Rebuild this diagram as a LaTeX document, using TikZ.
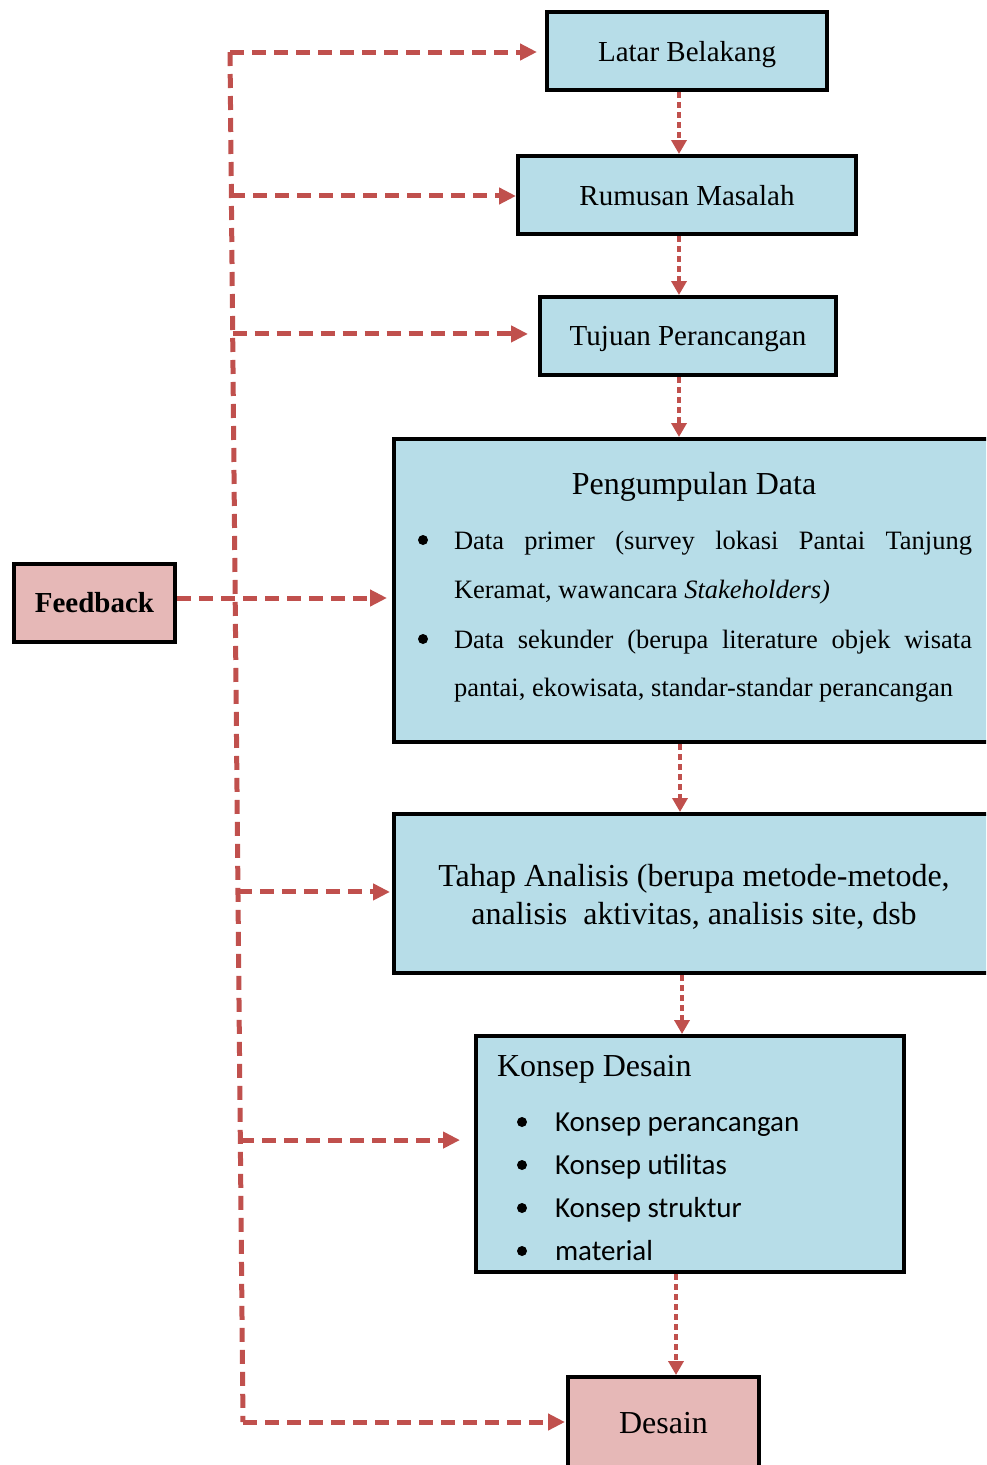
\documentclass[tikz,border=0pt]{standalone}
\usepackage{fontspec}
\setmainfont{Liberation Serif}
\newfontfamily\calfont{Carlito}
\usetikzlibrary{arrows.meta,calc}
\definecolor{boxblue}{HTML}{B7DDE8}
\definecolor{boxpink}{HTML}{E6B8B7}
\definecolor{fbred}{HTML}{C0504D}
\newcommand\fsA{\fontsize{29}{34}\selectfont}
\newcommand\fsB{\fontsize{32}{38}\selectfont}
\newcommand\fsC{\fontsize{26.5}{32}\selectfont}
\newcommand\fsD{\calfont\fontsize{29}{34}\selectfont}
\begin{document}
\begin{tikzpicture}[x=1pt,y=-1pt,
  box/.style={draw=black,line width=4pt,fill=boxblue,inner sep=0pt},
  pbox/.style={draw=black,line width=4pt,fill=boxpink,inner sep=0pt},
  txt/.style={inner sep=0pt,outer sep=0pt},
  fbl/.style={draw=fbred,line width=5pt,dash pattern=on 14pt off 8pt},
  fba/.style={fbl,-{Triangle[length=17pt,width=16pt]}},
  dta/.style={draw=fbred,line width=4.5pt,dash pattern=on 6pt off 4pt,-{Triangle[length=14pt,width=15pt]}},
  bul/.style={fill=black}]
\clip (0,0) rectangle (986,1465);
\fill[white] (0,0) rectangle (986,1465);

% boxes
\node[box,minimum width=280pt,minimum height=78pt,text depth=0pt,font=\fsA] (lb) at (687,51) {Latar Belakang};
\node[box,minimum width=338pt,minimum height=78pt,text depth=0pt,font=\fsA] (rm) at (687,195) {Rumusan Masalah};
\node[box,minimum width=296pt,minimum height=78pt,text depth=0pt,font=\fsA] (tp) at (688,336) {Tujuan Perancangan};
\node[box,minimum width=604pt,minimum height=303pt] (pd) at (696,590.5) {};
\node[box,minimum width=604pt,minimum height=159pt] (ta) at (696,893.5) {};
\node[box,minimum width=428pt,minimum height=236pt] (kd) at (690,1154) {};
\node[pbox,minimum width=191pt,minimum height=93pt,font=\fsB] (ds) at (663.5,1423.5) {Desain};
\node[pbox,minimum width=161pt,minimum height=78pt,font=\fsA\bfseries] (fb) at (94.5,603) {Feedback};

% Pengumpulan Data text
\node[txt,anchor=base,font=\fsB] (pdt) at (694,494) {Pengumpulan Data};
\node[txt,anchor=base west,font=\fsC] (p1) at (454,549) {\makebox[518pt][s]{Data primer (survey lokasi Pantai Tanjung}};
\node[txt,anchor=base west,font=\fsC] (p2) at (454,598) {Keramat, wawancara \textit{Stakeholders)}};
\node[txt,anchor=base west,font=\fsC] (p3) at (454,648) {\makebox[518pt][s]{Data sekunder (berupa literature objek wisata}};
\node[txt,anchor=base west,font=\fsC] (p4) at (454,696) {pantai, ekowisata, standar-standar perancangan};
\fill[bul] (423,540) circle (5pt);
\fill[bul] (423,639) circle (5pt);

% Tahap Analisis text
\node[txt,anchor=base,font=\fsB] (t1) at (694,886) {Tahap Analisis (berupa metode-metode,};
\node[txt,anchor=base,font=\fsB] (t2) at (694,924) {analisis\ \ aktivitas, analisis site, dsb};

% Konsep Desain text
\node[txt,anchor=base west,font=\fsB] (kdt) at (497,1076) {Konsep Desain};
\node[txt,anchor=base west,font=\fsD] (k1) at (555,1131) {Konsep perancangan};
\node[txt,anchor=base west,font=\fsD] (k2) at (555,1174) {Konsep utilitas};
\node[txt,anchor=base west,font=\fsD] (k3) at (555,1217) {Konsep struktur};
\node[txt,anchor=base west,font=\fsD] (k4) at (555,1260) {material};
\foreach \yy in {1122,1165,1208,1251} \fill[bul] (522,\yy) circle (5pt);

% feedback lines
\coordinate (vt) at (230,52);
\coordinate (vb) at (243,1422);
\draw[fbl] (vt) -- (vb);
\coordinate (b2) at ($(vt)!0.1051!(vb)$);
\coordinate (b3) at ($(vt)!0.2058!(vb)$);
\coordinate (b5) at ($(vt)!0.6131!(vb)$);
\coordinate (b6) at ($(vt)!0.7942!(vb)$);
\coordinate (fy) at (0,598);
\draw[fba,shorten >=8pt] (vt) -- (lb.west |- vt);
\draw[fba] (b2) -- (rm.west |- b2);
\draw[fba,shorten >=10pt] (b3) -- (tp.west |- b3);
\draw[fba,shorten >=5pt] (fb.east |- fy) -- (pd.west |- fy);
\draw[fba,shorten >=2pt] (b5) -- (ta.west |- b5);
\draw[fba,shorten >=14pt] (b6) -- (kd.west |- b6);
\draw[fba,shorten >=1pt] (vb) -- (ds.west |- vb);

% dotted flow arrows
\coordinate (c1) at (679,0);
\coordinate (c2) at (680,0);
\coordinate (c3) at (682,0);
\coordinate (c4) at (676,0);
\draw[dta] (lb.south -| c1) -- (rm.north -| c1);
\draw[dta] (rm.south -| c1) -- (tp.north -| c1);
\draw[dta] (tp.south -| c1) -- (pd.north -| c1);
\draw[dta] (pd.south -| c2) -- (ta.north -| c2);
\draw[dta] (ta.south -| c3) -- (kd.north -| c3);
\draw[dta] (kd.south -| c4) -- (ds.north -| c4);
\end{tikzpicture}
\end{document}
